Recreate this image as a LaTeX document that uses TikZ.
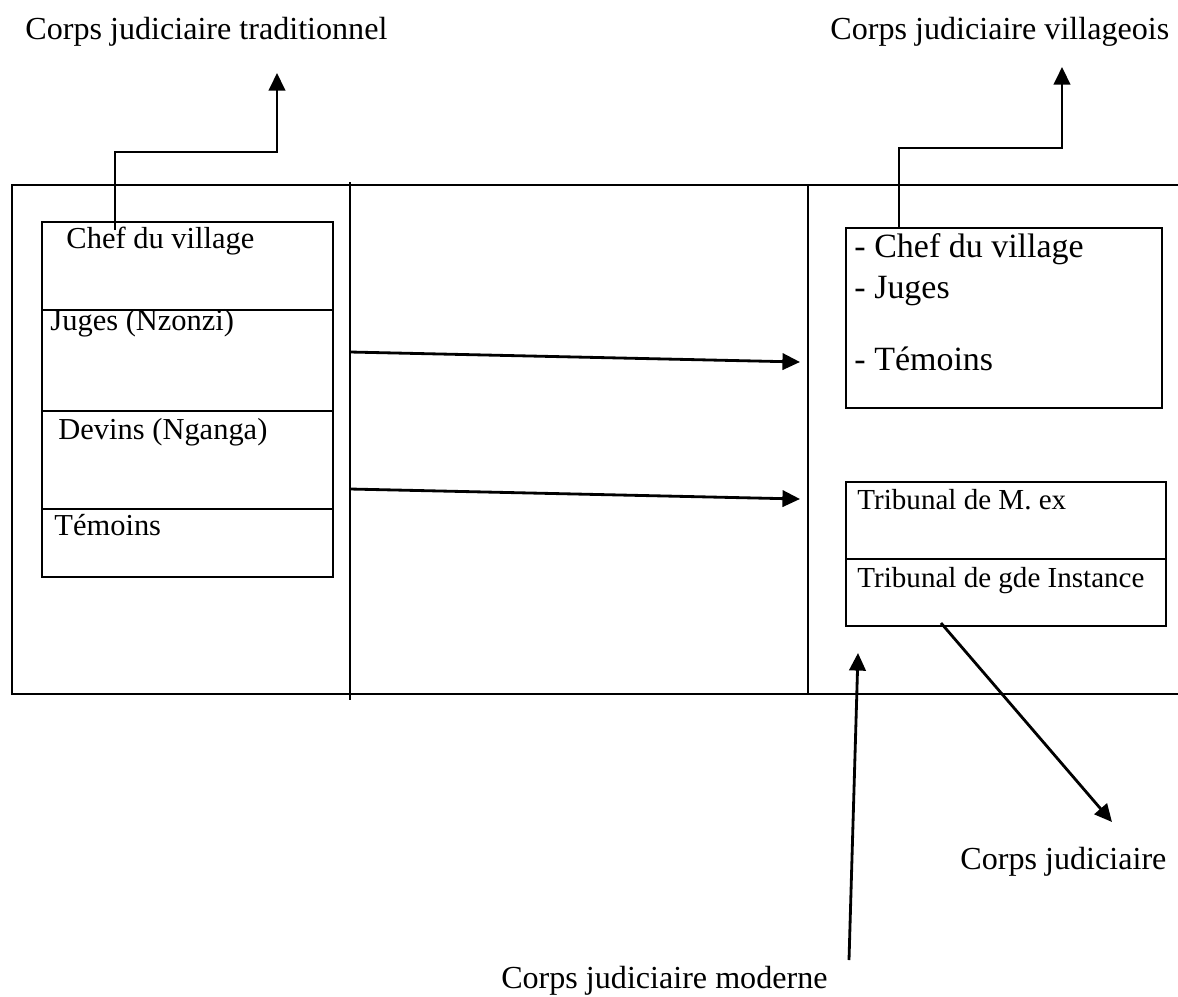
\documentclass[tikz,border=0pt]{standalone}
\usepackage{fontspec}
\setmainfont{Liberation Serif}
\usetikzlibrary{calc,positioning,arrows.meta}

\begin{document}
\begin{tikzpicture}[x=0.015cm,y=-0.015cm,
  trait/.style={line width=1.2pt},
  fleche/.style={line width=1.2pt,-{Triangle[length=7.5pt,width=7pt]}},
  cellule/.style={draw,line width=1.2pt,anchor=north west,inner sep=0pt,outer sep=0pt},
  texte/.style={anchor=base west,inner sep=0pt,font=\fontsize{13}{15}\selectfont},
  titre/.style={inner sep=0pt,font=\fontsize{13.7}{16}\selectfont}]
\useasboundingbox (0,0) rectangle (1178,996);
% Cadre
\draw[trait] (1178,185) -- (12,185) -- (12,694) -- (1178,694);
\draw[trait] (808,185) -- (808,694);
\draw[line width=0.9pt] (350,182) -- (350,700);
% Corps judiciaire traditionnel
\node[cellule,minimum width=4.365cm,minimum height=1.32cm] (chef) at (42,222) {};
\node[cellule,minimum width=4.365cm,minimum height=1.515cm] (juges) at (chef.south west) {};
\node[cellule,minimum width=4.365cm,minimum height=1.47cm] (devins) at (juges.south west) {};
\node[cellule,minimum width=4.365cm,minimum height=1.02cm] (temoins) at (devins.south west) {};
\node[texte] (tchef) at ($(chef.north west)+(24,26)$) {Chef du village};
\node[texte] (tjuges) at ($(juges.north west)+(8,20)$) {Juges (Nzonzi)};
\node[texte] (tdevins) at ($(devins.north west)+(16,28)$) {Devins (Nganga)};
\node[texte] (ttemoins) at ($(temoins.north west)+(12,26)$) {Témoins};
% Corps judiciaire villageois
\node[cellule,minimum width=4.74cm,minimum height=2.7cm] (village) at (846,228) {};
\node[texte,font=\fontsize{14.5}{17}\selectfont] (vchef) at ($(village.north west)+(8,29)$) {- Chef du village};
\node[texte,font=\fontsize{14.5}{17}\selectfont] (vjuges) at ($(village.north west)+(8,70)$) {- Juges};
\node[texte,font=\fontsize{14.5}{17}\selectfont] (vtemoins) at ($(village.north west)+(8,142)$) {- Témoins};
% Tribunaux
\node[cellule,minimum width=4.8cm,minimum height=1.155cm] (tribm) at (846,482) {};
\node[cellule,minimum width=4.8cm,minimum height=1.005cm] (tribg) at (tribm.south west) {};
\node[texte,font=\fontsize{12.4}{15}\selectfont] (ttribm) at ($(tribm.north west)+(11,27)$) {Tribunal de M. ex};
\node[texte,font=\fontsize{12.4}{15}\selectfont] (ttribg) at ($(tribg.north west)+(11,28)$) {Tribunal de gde Instance};
% Titres
\node[titre,anchor=base west] (trad) at (25,39) {Corps judiciaire traditionnel};
\node[titre,anchor=base west] (villag) at (830,39) {Corps judiciaire villageois};
\node[titre,anchor=base west] (judic) at (960,869) {Corps judiciaire};
\node[titre,anchor=base east] (moderne) at (828,988) {Corps judiciaire moderne};
% Points des fleches
\coordinate (tradbout) at ($(trad.base west)+(252,34)$);
\coordinate (villbout) at ($(villag.base west)+(232,28)$);
\coordinate (d1) at (350,352);
\coordinate (p1) at (800,362);
\coordinate (d2) at (350,489);
\coordinate (p2) at (800,499);
\coordinate (judbout) at ($(judic.base west)+(152,-47)$);
\coordinate (modpied) at ($(moderne.base east)+(21,-28)$);
\coordinate (modbout) at (858,653);
% Fleches
\draw[fleche] ($(chef.north west)+(73,8)$) |- ($(tradbout)+(0,79)$) -- (tradbout);
\draw[fleche] ($(village.north west)+(53,0)$) |- ($(villbout)+(0,81)$) -- (villbout);
\draw[fleche] (d1) -- (p1);
\draw[fleche] (d2) -- (p2);
\draw[fleche] ($(tribg.south west)+(95,-3)$) -- (judbout);
\draw[fleche] (modpied) -- (modbout);
\end{tikzpicture}
\end{document}
